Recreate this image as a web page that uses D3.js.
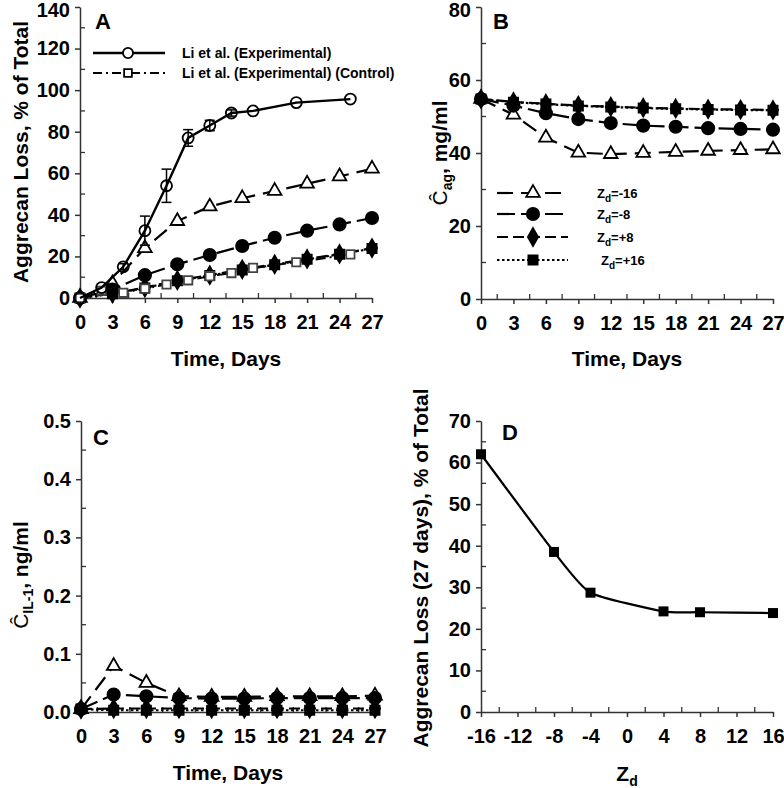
<!DOCTYPE html>
<html><head><meta charset="utf-8">
<script src="https://cdn.jsdelivr.net/npm/d3@7"></script>
<style>
body{margin:0;background:#fff}
text{font-family:"Liberation Sans",Arial,sans-serif;font-weight:bold;fill:#000}
</style></head>
<body><svg id="c" width="784" height="788"></svg>
<script>
// ---------- data ----------
const timeDays = [0,3,6,9,12,15,18,21,24,27];
const expDays  = [0,2,4,6,8,10,12,14,16,20,25];
const expLoss  = [0,5,15,32.4,54,77,83,89,90,94,95.7];
const expErr   = [0,1,1.5,7,8,4,2.5,1.5,1,1,1];
const ctrlDays = [0,2,4,6,8,10,12,14,16,20,25];
const ctrlLoss = [0,3.5,2.5,4.5,6.5,8.5,10.5,12,14.5,17.2,21];

const lossZm16 = [0,7,24,37,44,48,51.5,55,58.5,62.2];
const lossZm8  = [0,4,11,16.2,20.7,25,29,32.4,35.4,38.5];
const lossZp8  = [0,2.2,5,8.5,11,13.8,16.2,18.8,21.2,24];
const lossZp16 = [0,2,4.8,8.3,10.8,13.5,16,18.6,21,23.8];

const agZm16 = [54.8,50.5,44.2,40.1,39.7,40,40.3,40.6,40.8,41];
const agZm8  = [54.8,53,50.9,49.3,48.2,47.5,47.2,46.8,46.6,46.4];
const agZp8  = [54.8,54,53.5,53,52.7,52.4,52.2,52.0,51.9,51.8];
const agZp16 = [54.8,53.9,53.4,52.9,52.6,52.3,52.1,51.9,51.8,51.7];

const ilZm16 = [0.005,0.079,0.050,0.027,0.026,0.026,0.027,0.027,0.027,0.028];
const ilZm8  = [0.005,0.030,0.027,0.024,0.023,0.023,0.024,0.024,0.024,0.024];
const ilZp8  = [0.005,0.006,0.006,0.006,0.006,0.006,0.006,0.006,0.006,0.006];
const ilZp16 = [0.005,0.003,0.003,0.003,0.003,0.003,0.003,0.003,0.003,0.003];

const zdValues = [-16,-8,-4,4,8,16];
const loss27   = [62,38.5,28.7,24.2,24,23.8];

const seriesNames = ["-16","-8","+8","+16"];
const expLegend = ["Li et al. (Experimental)","Li et al. (Experimental) (Control)"];

const timeTicks = [0,3,6,9,12,15,18,21,24,27];
const lossTicks = [0,20,40,60,80,100,120,140];
const agTicks = [0,20,40,60,80];
const ilTicks = [0,0.1,0.2,0.3,0.4,0.5];
const zdTicks = [-16,-12,-8,-4,0,4,8,12,16];
const loss27Ticks = [0,10,20,30,40,50,60,70];

// ---------- styles ----------
const modelStyle = [
  {sym:d3.symbolTriangle, size:80, fill:"#fff", dash:"16,8"},
  {sym:d3.symbolCircle,   size:120, fill:"#000", dash:"18,6"},
  {sym:d3.symbolDiamond,  size:90, fill:"#000", dash:"11,5"},
  {sym:d3.symbolSquare,   size:85, fill:"#000", dash:"2.5,2.5"}
];

const svg = d3.select("#c");
const AX = "#333";

function panel(c){
  const x = d3.scaleLinear().domain(c.xd).range([c.left,c.right]);
  const y = d3.scaleLinear().domain(c.yd).range([c.bottom,c.top]);
  const g = svg.append("g");
  g.selectAll(".mx").data(c.xMinor).join("line")
    .attr("x1",d=>x(d)).attr("x2",d=>x(d)).attr("y1",c.bottom).attr("y2",c.bottom-5)
    .attr("stroke",AX).attr("stroke-width",1.3);
  g.selectAll(".my").data(c.yMinor).join("line")
    .attr("y1",d=>y(d)).attr("y2",d=>y(d)).attr("x1",c.left).attr("x2",c.left+5)
    .attr("stroke",AX).attr("stroke-width",1.3);
  const fmt = d => String(d);
  const xg = g.append("g").attr("transform",`translate(0,${c.bottom})`)
    .call(d3.axisBottom(x).tickValues(c.xt).tickSize(5).tickSizeOuter(0).tickPadding(12).tickFormat(c.xf||fmt));
  const yg = g.append("g").attr("transform",`translate(${c.left},0)`)
    .call(d3.axisLeft(y).tickValues(c.yt).tickSize(5).tickSizeOuter(0).tickPadding(5).tickFormat(c.yf||fmt));
  [xg,yg].forEach(a=>{
    a.attr("font-family",null).attr("font-size",null);
    a.selectAll(".domain,.tick line").attr("stroke",AX).attr("stroke-width",1.5);
    a.selectAll(".tick text").attr("font-size",20).attr("fill","#000");
  });
  yg.selectAll(".tick text").filter(d=>y(d)<12).attr("dy","0.45em");
  return {x,y,g};
}

function drawLine(p, xs, ys, st, sw){
  const pts = xs.map((d,i)=>[d,ys[i]]);
  p.g.append("path").datum(pts)
    .attr("d",d3.line().x(d=>p.x(d[0])).y(d=>p.y(d[1])))
    .attr("fill","none").attr("stroke","#000").attr("stroke-width",sw||2.2)
    .attr("stroke-dasharray",st.dash||null);
}
function drawMarks(p, xs, ys, st){
  const pts = xs.map((d,i)=>[d,ys[i]]);
  p.g.selectAll(null).data(pts).join("path")
    .attr("transform",d=>`translate(${p.x(d[0])},${p.y(d[1])})`)
    .attr("d",d3.symbol().type(st.sym).size(st.size))
    .attr("fill",st.fill).attr("stroke",st.stroke||"#000").attr("stroke-width",1.8);
}
function drawSeries(p, xs, ys, st, sw){ drawLine(p,xs,ys,st,sw); drawMarks(p,xs,ys,st); }

function letter(t,x,y){ svg.append("text").attr("x",x).attr("y",y).attr("font-size",22).text(t); }

const minorDays = [1.5,4.5,7.5,10.5,13.5,16.5,19.5,22.5,25.5];

// ---------- Panel A ----------
const pA = panel({left:80,right:372,top:7,bottom:298,xd:[0,27],yd:[0,140],
  xt:timeTicks,yt:lossTicks,xMinor:minorDays,yMinor:[10,30,50,70,90,110,130]});
[lossZm16,lossZm8,lossZp8,lossZp16].forEach((s,i)=>drawSeries(pA,timeDays,s,modelStyle[i]));
drawSeries(pA,ctrlDays,ctrlLoss,{sym:d3.symbolSquare,size:70,fill:"#fff",stroke:"#444",dash:"10,4,2,4"},2);
pA.g.selectAll(null).data(expDays.map((d,i)=>[d,expLoss[i],expErr[i]]).filter(d=>d[2]>1)).join("g")
  .each(function(d){
    const g = d3.select(this), xx = pA.x(d[0]);
    g.append("line").attr("x1",xx).attr("x2",xx).attr("y1",pA.y(d[1]-d[2])).attr("y2",pA.y(d[1]+d[2])).attr("stroke","#000").attr("stroke-width",1.5);
    [d[1]-d[2],d[1]+d[2]].forEach(v=>g.append("line").attr("x1",xx-5).attr("x2",xx+5).attr("y1",pA.y(v)).attr("y2",pA.y(v)).attr("stroke","#000").attr("stroke-width",1.5));
  });
drawSeries(pA,expDays,expLoss,{sym:d3.symbolCircle,size:95,fill:"none",dash:null},2.4);
letter("A",95,29);
const legA = [{sym:d3.symbolCircle,size:80,dash:null,sw:2.4},{sym:d3.symbolSquare,size:60,dash:"9,4,2,4",sw:2}];
legA.forEach((st,i)=>{
  const yy = 53+i*20;
  svg.append("line").attr("x1",93).attr("x2",165).attr("y1",yy).attr("y2",yy).attr("stroke","#000").attr("stroke-width",st.sw).attr("stroke-dasharray",st.dash);
  svg.append("path").attr("transform",`translate(128,${yy})`).attr("d",d3.symbol().type(st.sym).size(st.size)).attr("fill","#fff").attr("stroke","#000").attr("stroke-width",1.8);
  svg.append("text").attr("x",182).attr("y",yy).attr("dy","0.35em").attr("font-size",14).text(expLegend[i]);
});
svg.append("text").attr("transform","translate(28,152) rotate(-90)").attr("text-anchor","middle").attr("font-size",21).text("Aggrecan Loss, % of Total");
svg.append("text").attr("x",226).attr("y",366).attr("text-anchor","middle").attr("font-size",21).text("Time, Days");

// ---------- Panel B ----------
const pB = panel({left:481,right:773,top:7,bottom:299,xd:[0,27],yd:[0,80],
  xt:timeTicks,yt:agTicks,xMinor:minorDays,yMinor:[10,30,50,70]});
[agZm16,agZm8,agZp8,agZp16].forEach((s,i)=>drawSeries(pB,timeDays,s,modelStyle[i]));
letter("B",493,29);
[193,214,237,260].forEach((yy,i)=>{
  const st = modelStyle[i];
  svg.append("line").attr("x1",497).attr("x2",568).attr("y1",yy).attr("y2",yy).attr("stroke","#000").attr("stroke-width",2.2).attr("stroke-dasharray",st.dash);
  svg.append("path").attr("transform",`translate(533,${yy})`).attr("d",d3.symbol().type(st.sym).size(st.size)).attr("fill",st.fill).attr("stroke","#000").attr("stroke-width",1.8);
  const t = svg.append("text").attr("x",i===3?601:597).attr("y",yy).attr("dy","0.35em").attr("font-size",13);
  t.append("tspan").text("Z");
  t.append("tspan").attr("dy",4).attr("font-size",10).text("d");
  t.append("tspan").attr("dy",-4).text("=" + seriesNames[i]);
});
{
  const t = svg.append("text").attr("transform","translate(447,153) rotate(-90)").attr("text-anchor","middle").attr("font-size",21);
  t.append("tspan").attr("font-weight","normal").text("Ĉ");
  t.append("tspan").attr("dy",5).attr("font-size",14).text("ag");
  t.append("tspan").attr("dy",-5).text(", mg/ml");
}
svg.append("text").attr("x",627).attr("y",366).attr("text-anchor","middle").attr("font-size",21).text("Time, Days");

// ---------- Panel C ----------
const pC = panel({left:81,right:375,top:421,bottom:712,xd:[0,27],yd:[0,0.5],
  xt:timeTicks,yt:ilTicks,yf:d3.format(".1f"),xMinor:minorDays,yMinor:[0.05,0.15,0.25,0.35,0.45]});
const ilSeries = [ilZm16,ilZm8,ilZp8,ilZp16];
ilSeries.forEach((s,i)=>drawLine(pC,timeDays,s,modelStyle[i]));
ilSeries.forEach((s,i)=>drawMarks(pC,timeDays,s,modelStyle[i]));
letter("C",93,445);
{
  const t = svg.append("text").attr("transform","translate(28,575) rotate(-90)").attr("text-anchor","middle").attr("font-size",21);
  t.append("tspan").attr("font-weight","normal").text("Ĉ");
  t.append("tspan").attr("dy",5).attr("font-size",14).text("IL-1");
  t.append("tspan").attr("dy",-5).text(", ng/ml");
}
svg.append("text").attr("x",228).attr("y",780).attr("text-anchor","middle").attr("font-size",21).text("Time, Days");

// ---------- Panel D ----------
const pD = panel({left:481,right:773,top:421,bottom:712,xd:[-16,16],yd:[0,70],
  xt:zdTicks,yt:loss27Ticks,xMinor:[-14,-10,-6,-2,2,6,10,14],yMinor:[5,15,25,35,45,55,65]});
{
  const pts = zdValues.map((d,i)=>[d,loss27[i]]);
  pD.g.append("path").datum(pts).attr("d",d3.line().curve(d3.curveCardinal.tension(0.45)).x(d=>pD.x(d[0])).y(d=>pD.y(d[1])))
    .attr("fill","none").attr("stroke","#000").attr("stroke-width",2.2);
  pD.g.selectAll(null).data(pts).join("path")
    .attr("transform",d=>`translate(${pD.x(d[0])},${pD.y(d[1])})`)
    .attr("d",d3.symbol().type(d3.symbolSquare).size(100)).attr("fill","#000");
}
letter("D",502,440);
svg.append("text").attr("transform","translate(428,568) rotate(-90)").attr("text-anchor","middle").attr("font-size",21).text("Aggrecan Loss (27 days), % of Total");
{
  const t = svg.append("text").attr("x",627).attr("y",781).attr("text-anchor","middle").attr("font-size",21);
  t.append("tspan").text("Z");
  t.append("tspan").attr("dy",5).attr("font-size",14).text("d");
}
</script></body></html>
